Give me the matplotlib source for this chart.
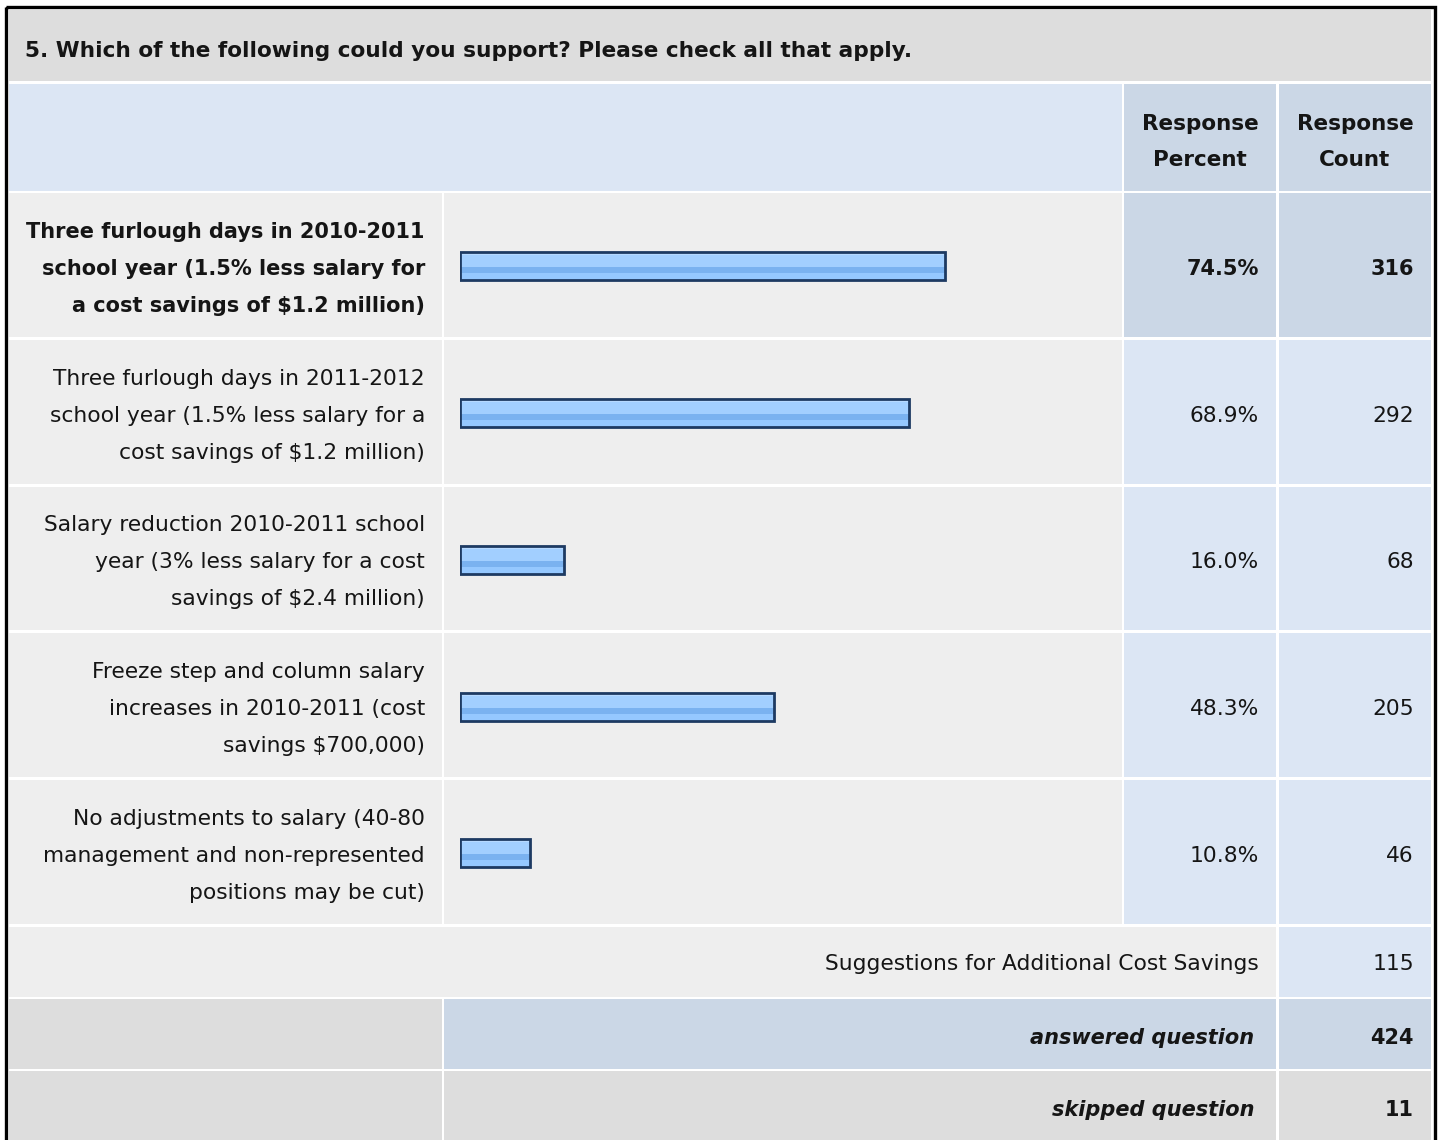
import numpy as np
import matplotlib
matplotlib.use("Agg")
from matplotlib import pyplot as plt
from matplotlib.patches import Rectangle

plt.rcParams['font.family'] = ['DejaVu Sans']

# ---- data ----
question = "5. Which of the following could you support? Please check all that apply."
answer_labels = [
    "Three furlough days in 2010-2011\nschool year (1.5% less salary for\na cost savings of $1.2 million)",
    "Three furlough days in 2011-2012\nschool year (1.5% less salary for a\ncost savings of $1.2 million)",
    "Salary reduction 2010-2011 school\nyear (3% less salary for a cost\nsavings of $2.4 million)",
    "Freeze step and column salary\nincreases in 2010-2011 (cost\nsavings $700,000)",
    "No adjustments to salary (40-80\nmanagement and non-represented\npositions may be cut)",
]
response_percent = [74.5, 68.9, 16.0, 48.3, 10.8]
response_count = [316, 292, 68, 205, 46]
suggestions_label = "Suggestions for Additional Cost Savings"
suggestions_count = 115
answered_count = 424
skipped_count = 11

W, H = 1440, 1140
GRAY = '#dddddd'
LIGHT = '#eeeeee'
PALEBLUE = '#dce6f4'
BLUE = '#cbd7e6'
TXT = '#151515'
FS = 15.7      # regular text
FSB = 15       # bold text

fig = plt.figure(figsize=(W / 100, H / 100), dpi=100)
ax = fig.add_axes([0, 0, 1, 1])
ax.set_xlim(0, W)
ax.set_ylim(H, 0)
ax.axis('off')


def cell(x0, y0, x1, y1, color):
    ax.add_patch(Rectangle((x0, y0), x1 - x0, y1 - y0, facecolor=color, edgecolor='none'))


# outer frame
ax.add_patch(Rectangle((5.5, 7), 1429, 1140, facecolor='none', edgecolor='black', linewidth=2.4))

# column edges
c0, c1, c2, c3, c4, c5, c6 = 9, 442, 444, 1122, 1124, 1276, 1279
c7 = 1431

# title band
cell(c0, 10, c7, 81, GRAY)
ax.text(25, 51, question, fontsize=15.6, fontweight='bold', color=TXT, va='center', ha='left')

# header
cell(c0, 84, c3, 191, PALEBLUE)
cell(c4, 84, c5, 191, BLUE)
cell(c6, 84, c7, 191, BLUE)
for xc, sub in [((c4 + c5) / 2, "Percent"), ((c6 + c7) / 2, "Count")]:
    ax.text(xc, 124, "Response", fontsize=15.5, fontweight='bold', color=TXT, ha='center', va='center')
    ax.text(xc, 160, sub, fontsize=15.5, fontweight='bold', color=TXT, ha='center', va='center')

# answer rows
row_top, row_step = 193, 146.75
for i, (lab, pct, cnt) in enumerate(zip(answer_labels, response_percent, response_count)):
    y0 = row_top + i * row_step
    y1 = y0 + row_step - 3
    yc = (y0 + y1) / 2
    first = i == 0
    cell(c0, y0, c1, y1, LIGHT)
    cell(c2, y0, c3, y1, LIGHT)
    cell(c4, y0, c5, y1, BLUE if first else PALEBLUE)
    cell(c6, y0, c7, y1, BLUE if first else PALEBLUE)
    wt = 'bold' if first else 'normal'
    fs = FSB if first else FS
    for k, line in enumerate(lab.split('\n')):
        ax.text(425, yc + 4 + (k - 1) * 37, line, fontsize=fs, fontweight=wt, color=TXT, ha='right', va='center')
    ax.text(1259, yc + 4, f"{pct:.1f}%", fontsize=fs, fontweight=wt, color=TXT, ha='right', va='center')
    ax.text(1414, yc + 4, f"{cnt}", fontsize=fs, fontweight=wt, color=TXT, ha='right', va='center')

# suggestions row
cell(c0, 927, c5, 997, LIGHT)
cell(c6, 927, c7, 997, PALEBLUE)
ax.text(1259, 964, suggestions_label, fontsize=FS, color=TXT, ha='right', va='center')
ax.text(1414, 964, f"{suggestions_count}", fontsize=FS, color=TXT, ha='right', va='center')

# answered / skipped
cell(c0, 999, c1, 1069, GRAY)
cell(c2, 999, c5, 1069, BLUE)
cell(c6, 999, c7, 1069, BLUE)
ax.text(1254, 1038, "answered question", fontsize=FSB, fontweight='bold', style='italic', color=TXT, ha='right', va='center')
ax.text(1414, 1038, f"{answered_count}", fontsize=FSB, fontweight='bold', color=TXT, ha='right', va='center')
cell(c0, 1071, c1, H + 5, GRAY)
cell(c2, 1071, c5, H + 5, GRAY)
cell(c6, 1071, c7, H + 5, GRAY)
ax.text(1254, 1110, "skipped question", fontsize=FSB, fontweight='bold', style='italic', color=TXT, ha='right', va='center')
ax.text(1414, 1110, f"{skipped_count}", fontsize=FSB, fontweight='bold', color=TXT, ha='right', va='center')

# bar area axes: 0-100% spans x 460..1111 px, rows 193..927 px
bx0, bx1 = 460, 1111
by0, by1 = row_top, row_top + 5 * row_step
bax = fig.add_axes([bx0 / W, 1 - by1 / H, (bx1 - bx0) / W, (by1 - by0) / H])
bax.set_xlim(0, 100)
bax.set_ylim(4.5, -0.5)
bax.axis('off')

stripes = ['#c8e2ff', '#c8e2ff', '#b6d9ff'] + ['#a2cfff'] * 10 + ['#7ab2f0'] * 5 + ['#95c8ff'] * 6
grad = np.array([matplotlib.colors.to_rgb(c) for c in stripes])[:, None, :]
bh = 0.19
ypos = np.arange(len(response_percent))
for y, v in zip(ypos, response_percent):
    bax.imshow(grad, extent=(0, v, y + bh / 2, y - bh / 2), aspect='auto', interpolation='nearest', zorder=1)
bax.barh(ypos, response_percent, height=bh, facecolor='none', edgecolor='#1d3a62', linewidth=2.0, zorder=2)
bax.set_xlim(0, 100)
bax.set_ylim(4.5, -0.5)

fig.savefig('out.png', dpi=100, facecolor='white')
